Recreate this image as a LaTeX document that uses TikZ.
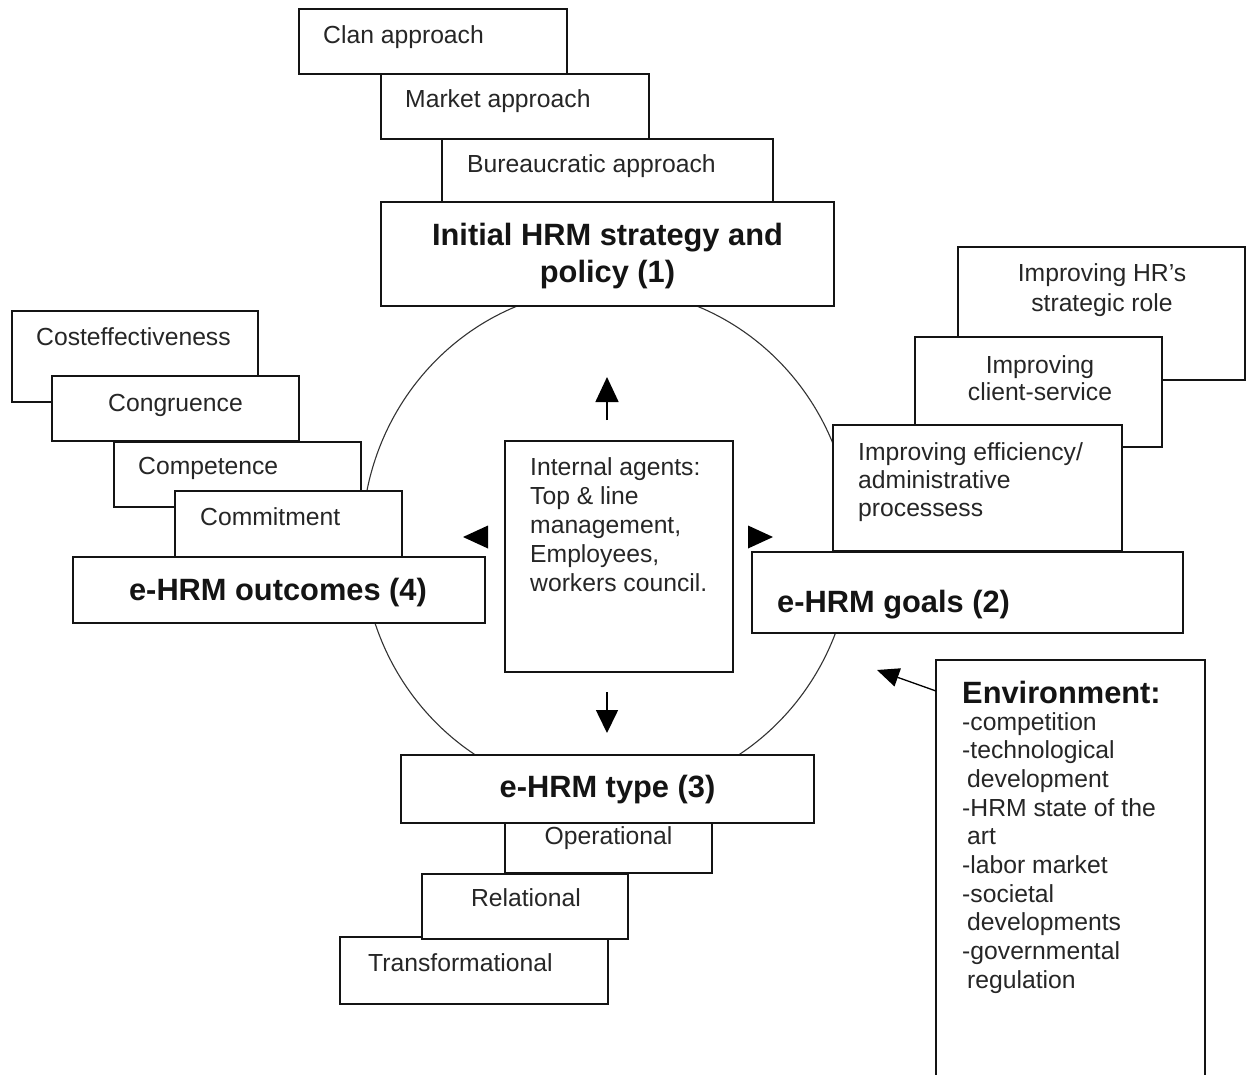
\documentclass[tikz,border=0pt]{standalone}
\usepackage{fontspec}
\setmainfont{Liberation Sans}
\usetikzlibrary{arrows.meta}
\newcommand\txtR{\fontsize{24.7pt}{29pt}\selectfont}
\newcommand\txtB{\fontsize{30.8pt}{37pt}\selectfont\bfseries}
\newcommand\mybox[5]{\node[box,minimum width={(#4)-(#2)},minimum height={(#5)-(#3)}] (#1) at (#2,#3) {};}
\begin{document}
\begin{tikzpicture}[x=1pt,y=-1pt,
 box/.style={draw=black!92, line width=1.6pt, fill=white, inner sep=0pt, outer sep=0pt, anchor=north west},
 rt/.style={font=\txtR, text=black!85, inner sep=0pt, anchor=base west},
 rtc/.style={font=\txtR, text=black!85, inner sep=0pt, anchor=base},
 bt/.style={font=\txtB, text=black!92, inner sep=0pt, anchor=base},
 circ/.style={draw=black!80, line width=1.1pt},
 arr/.style={line width=1.6pt, -{Triangle[length=25pt,width=23pt]}},
 headonly/.style={fill=black},
]
\useasboundingbox (0,0) rectangle (1247,1074);
\clip (0,0) rectangle (1247,1074);
\fill[white] (0,0) rectangle (1247,1074);

% cycle
\draw[circ] (607,541.5) ellipse [x radius=245pt, y radius=253pt];

% (1) strategy
\mybox{clan}{299}{9}{567}{74}
\mybox{market}{381}{74}{649}{139}
\mybox{bureau}{442}{139}{773}{202}
\mybox{initial}{381}{202}{834}{306}
\node[rt] (clanT) at (323,43) {Clan approach};
\node[rt] (marketT) at (405,107) {Market approach};
\node[rt] (bureauT) at (467,172) {Bureaucratic approach};
\node[bt] (initialA) at (607.5,245) {Initial HRM strategy and};
\node[bt] (initialB) at (607.5,282) {policy (1)};

% (2) goals
\mybox{strat}{958}{247}{1245}{380}
\mybox{client}{915}{337}{1162}{447}
\mybox{effic}{833}{425}{1122}{551}
\mybox{goals}{752}{552}{1183}{633}
\node[rtc] (stratA) at (1102,281) {Improving HR’s};
\node[rtc] (stratB) at (1102,311) {strategic role};
\node[rtc] (clientA) at (1040,373) {Improving};
\node[rtc] (clientB) at (1040,400) {client-service};
\node[rt] (efficA) at (858,460) {Improving efficiency/};
\node[rt] (efficB) at (858,488) {administrative};
\node[rt] (efficC) at (858,516) {processess};
\node[bt, anchor=base west] (goalsT) at (777,612) {e-HRM goals (2)};

% (4) outcomes
\mybox{cost}{12}{311}{258}{402}
\mybox{congr}{52}{376}{299}{441}
\mybox{compet}{114}{442}{361}{507}
\mybox{commit}{175}{491}{402}{557}
\mybox{outc}{73}{557}{485}{623}
\node[rt] (costT) at (36,345) {Costeffectiveness};
\node[rt] (congrT) at (108,411) {Congruence};
\node[rt] (competT) at (138,474) {Competence};
\node[rt] (commitT) at (200,525) {Commitment};
\node[bt] (outcT) at (278,600) {e-HRM outcomes (4)};

% (3) type
\mybox{transf}{340}{937}{608}{1004}
\mybox{relat}{422}{874}{628}{939}
\mybox{operat}{505}{790}{712}{873}
\mybox{etype}{401}{755}{814}{823}
\node[rt] (transfT) at (368,971) {Transformational};
\node[rtc] (relatT) at (526,906) {Relational};
\node[rtc] (operatT) at (608.5,844) {Operational};
\node[bt] (etypeT) at (607.5,797) {e-HRM type (3)};

% internal agents
\mybox{agents}{505}{441}{733}{672}
\foreach \s [count=\i from 0] in {Internal agents:, Top \& line, {management,}, {Employees,}, workers council.}
  \node[rt] (ia\i) at (530,475+29*\i) {\s};

% environment
\mybox{envbox}{936}{660}{1205}{1100}
\node[bt, anchor=base west] (envT) at (962,703) {Environment:};
\foreach \s [count=\i from 0] in {-competition, -technological, \hspace{5pt}development, -HRM state of the, \hspace{5pt}art, -labor market, -societal, \hspace{5pt}developments, -governmental, \hspace{5pt}regulation}
  \node[rt] (env\i) at (962,730+28.7*\i) {\s};

% arrows
\coordinate (upA) at (607,420); \coordinate (upB) at (607,377);
\coordinate (dnA) at (607,692); \coordinate (dnB) at (607,733);
\coordinate (lfA) at (488,537); \coordinate (lfB) at (463,537);
\coordinate (rtA) at (748,537); \coordinate (rtB) at (773,537);
\coordinate (enA) at (936,691); \coordinate (enB) at (877,670);
\draw[arr] (upA) -- (upB);
\draw[line width=1.6pt, -{Triangle[length=23pt,width=22pt]}] (dnA) -- (dnB);
\fill[headonly] ([yshift=11.5pt]lfA) -- (lfB) -- ([yshift=-11.5pt]lfA) -- cycle;
\fill[headonly] ([yshift=11.5pt]rtA) -- (rtB) -- ([yshift=-11.5pt]rtA) -- cycle;
\draw[line width=1.3pt, -{Triangle[length=22pt,width=19pt]}] (enA) -- (enB);
\end{tikzpicture}
\end{document}
